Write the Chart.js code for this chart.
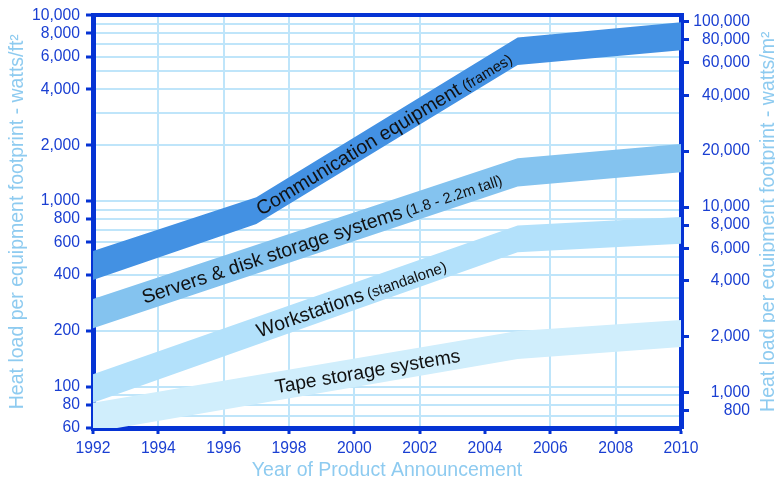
<!DOCTYPE html>
<html>
<head>
<meta charset="utf-8">
<script src="https://cdn.jsdelivr.net/npm/chart.js@4.4.1/dist/chart.umd.min.js"></script>
<style>
  html, body { margin: 0; padding: 0; background: #ffffff; }
  canvas { display: block; }
</style>
</head>
<body>
<canvas id="chart" width="775" height="480"></canvas>
<script>
// Heat load bands (watts/ft²): each band is an upper and a lower edge
const commYears = [1992, 1997, 2005, 2010];
const commHigh = [538, 1050, 7600, 9200];
const commLow = [376, 752, 5400, 6500];

const serverYears = [1992, 2005, 2010];
const serverHigh = [297, 1700, 2030];
const serverLow = [207, 1200, 1430];

const workstationYears = [1992, 2005, 2010];
const workstationHigh = [117, 740, 820];
const workstationLow = [82, 530, 590];

const tapeYears = [1992, 2005, 2010];
const tapeHigh = [82, 200, 229];
const tapeLow = [57, 141, 164];

// Axis ticks
const yearTicks = [1992, 1994, 1996, 1998, 2000, 2002, 2004, 2006, 2008, 2010];
const leftTickLabels = [60, 80, 100, 200, 400, 600, 800, 1000, 2000, 4000, 6000, 8000, 10000];
const leftGridValues = [60, 70, 80, 90, 100, 200, 300, 400, 500, 600, 700, 800, 900,
  1000, 2000, 3000, 4000, 5000, 6000, 7000, 8000, 9000, 10000];
const rightTickLabels = [800, 1000, 2000, 4000, 6000, 8000, 10000, 20000, 40000, 60000, 80000, 100000];
const M2_PER_FT2 = 10.7639;

const AXIS_BLUE = '#0533d4';
const TICK_BLUE = '#1a3fd2';
const TITLE_BLUE = '#8ecbf0';
const GRID_BLUE = '#bfe5fa';
const FONT = "'Liberation Sans', Arial, Helvetica, sans-serif";
const CLEAR = 'rgba(0,0,0,0)';

const bands = [
  { key: 'tape', years: tapeYears, high: tapeHigh, low: tapeLow, color: '#d0eefc' },
  { key: 'workstation', years: workstationYears, high: workstationHigh, low: workstationLow, color: '#b3e1fb' },
  { key: 'server', years: serverYears, high: serverHigh, low: serverLow, color: '#84c3ef' },
  { key: 'comm', years: commYears, high: commHigh, low: commLow, color: '#4391e3' }
];

const bandLabels = [
  { key: 'comm', year: 2000.9, parts: [['Communication equipment', 19.8], [' (frames)', 15]] },
  { key: 'server', year: 1999.0, parts: [['Servers & disk storage systems', 19.5], [' (1.8 - 2.2m tall)', 15]] },
  { key: 'workstation', year: 1999.9, parts: [['Workstations', 19.5], [' (standalone)', 15]] },
  { key: 'tape', year: 2000.4, parts: [['Tape storage systems', 19.3]] }
];

const toPoints = (years, vals) => years.map((x, i) => ({ x: x, y: vals[i] }));

const datasets = [];
bands.forEach(b => {
  datasets.push({
    label: b.key + ' low', data: toPoints(b.years, b.low),
    borderWidth: 0, pointRadius: 0, fill: false, tension: 0,
    backgroundColor: b.color, borderColor: b.color, xAxisID: 'x', yAxisID: 'y'
  });
  datasets.push({
    label: b.key + ' high', data: toPoints(b.years, b.high),
    borderWidth: 0, pointRadius: 0, fill: '-1', tension: 0,
    backgroundColor: b.color, borderColor: b.color, xAxisID: 'x', yAxisID: 'y'
  });
});

// Text written along each band, rotated to follow its centre line
const bandLabelPlugin = {
  id: 'bandLabels',
  afterDatasetsDraw(chart) {
    const { ctx } = chart;
    const xs = chart.scales.x, ys = chart.scales.y;
    bandLabels.forEach(lab => {
      const b = bands.find(d => d.key === lab.key);
      let i = 0;
      while (i < b.years.length - 2 && lab.year > b.years[i + 1]) i++;
      const x0 = xs.getPixelForValue(b.years[i]);
      const x1 = xs.getPixelForValue(b.years[i + 1]);
      const m0 = (ys.getPixelForValue(b.high[i]) + ys.getPixelForValue(b.low[i])) / 2;
      const m1 = (ys.getPixelForValue(b.high[i + 1]) + ys.getPixelForValue(b.low[i + 1])) / 2;
      const t = (lab.year - b.years[i]) / (b.years[i + 1] - b.years[i]);
      const cx = x0 + t * (x1 - x0);
      const cy = m0 + t * (m1 - m0);
      const angle = Math.atan2(m1 - m0, x1 - x0);

      ctx.save();
      ctx.translate(cx, cy);
      ctx.rotate(angle);
      ctx.fillStyle = '#111111';
      ctx.textBaseline = 'alphabetic';
      ctx.textAlign = 'left';
      let total = 0;
      const widths = lab.parts.map(([txt, size]) => {
        ctx.font = size + 'px ' + FONT;
        const w = ctx.measureText(txt).width;
        total += w;
        return w;
      });
      let px = -total / 2;
      const base = lab.parts[0][1] * 0.36;
      lab.parts.forEach(([txt, size], k) => {
        ctx.font = size + 'px ' + FONT;
        ctx.fillText(txt, px, base);
        px += widths[k];
      });
      ctx.restore();
    });
  }
};

// Right-hand axis title, reading bottom to top like the left one
const rightTitlePlugin = {
  id: 'rightTitle',
  afterDraw(chart) {
    const { ctx, chartArea } = chart;
    ctx.save();
    ctx.translate(769, (chartArea.top + chartArea.bottom) / 2);
    ctx.rotate(-Math.PI / 2);
    ctx.fillStyle = TITLE_BLUE;
    ctx.font = '19.5px ' + FONT;
    ctx.textAlign = 'center';
    ctx.textBaseline = 'middle';
    ctx.fillText('Heat load per equipment footprint - watts/m²', 0, 0);
    ctx.restore();
  }
};

new Chart(document.getElementById('chart'), {
  type: 'line',
  data: { datasets: datasets },
  plugins: [bandLabelPlugin, rightTitlePlugin],
  options: {
    responsive: false,
    animation: false,
    events: [],
    layout: { padding: { left: 0, top: 0, bottom: 0, right: 25 } },
    plugins: { legend: { display: false }, tooltip: { enabled: false } },
    scales: {
      x: {
        type: 'linear', position: 'bottom', min: 1992, max: 2010,
        afterBuildTicks: s => { s.ticks = yearTicks.map(v => ({ value: v })); },
        ticks: {
          color: TICK_BLUE, font: { family: FONT, size: 15.7 }, padding: 5,
          autoSkip: false, maxRotation: 0, callback: v => String(v)
        },
        grid: {
          color: ctx => (ctx.tick && ctx.tick.value === 2004) ? CLEAR : GRID_BLUE,
          lineWidth: 2, tickColor: AXIS_BLUE, tickLength: 6, tickWidth: 3
        },
        border: { color: AXIS_BLUE, width: 5 },
        title: {
          display: true, text: 'Year of Product Announcement', color: TITLE_BLUE,
          font: { family: FONT, size: 19.5, lineHeight: 1 }, padding: { top: 0, bottom: 0 }
        },
        afterFit: s => { s.height = 52; }
      },
      xTop: {
        type: 'linear', position: 'top', min: 1992, max: 2010,
        ticks: { display: false },
        grid: { display: false, drawTicks: false },
        border: { color: AXIS_BLUE, width: 4 },
        afterFit: s => { s.height = 15; }
      },
      y: {
        type: 'logarithmic', position: 'left', min: 60, max: 10000,
        afterBuildTicks: s => { s.ticks = leftGridValues.map(v => ({ value: v })); },
        ticks: {
          color: TICK_BLUE, font: { family: FONT, size: 15.7 }, padding: 6, autoSkip: false,
          callback: v => leftTickLabels.includes(v) ? v.toLocaleString('en-US') : ''
        },
        grid: {
          color: GRID_BLUE, lineWidth: 2,
          tickColor: ctx => (ctx.tick && leftTickLabels.includes(ctx.tick.value)) ? AXIS_BLUE : CLEAR,
          tickLength: 7, tickWidth: 3
        },
        border: { color: AXIS_BLUE, width: 5 },
        title: {
          display: true, text: 'Heat load per equipment footprint - watts/ft²', color: TITLE_BLUE,
          font: { family: FONT, size: 19.5, lineHeight: 1 }, padding: { top: 8, bottom: 0 }
        },
        afterFit: s => { s.width = 93; }
      },
      y2: {
        type: 'logarithmic', position: 'right', min: 60 * M2_PER_FT2, max: 10000 * M2_PER_FT2,
        afterBuildTicks: s => { s.ticks = rightTickLabels.map(v => ({ value: v })); },
        ticks: {
          color: TICK_BLUE, font: { family: FONT, size: 15.7 }, padding: 4, autoSkip: false,
          crossAlign: 'far', callback: v => v.toLocaleString('en-US')
        },
        grid: { drawOnChartArea: false, tickColor: AXIS_BLUE, tickLength: 8, tickWidth: 3 },
        border: { color: AXIS_BLUE, width: 5 },
        afterFit: s => { s.width = 69; }
      }
    }
  }
});
</script>
</body>
</html>
